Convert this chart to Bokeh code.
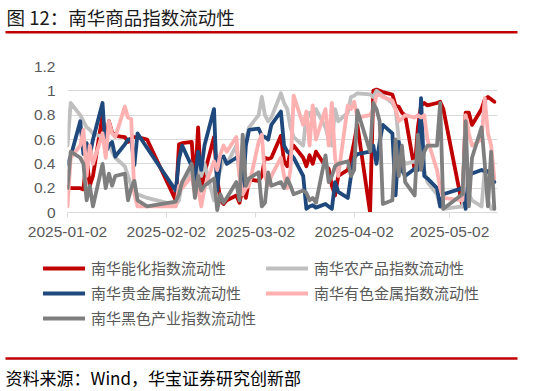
import pandas as pd
from bokeh.plotting import figure
from bokeh.layouts import column
from bokeh.models import (Range1d, FixedTicker, DatetimeTickFormatter, Legend,
                          LegendItem, ColumnDataSource, Label)
from bokeh.embed import file_html
from bokeh.resources import INLINE

# ---------------- data ----------------
holidays = ["2025-01-01", "2025-01-28", "2025-01-29", "2025-01-30", "2025-01-31",
            "2025-02-03", "2025-02-04", "2025-04-04", "2025-05-01", "2025-05-02",
            "2025-05-05"]
dates = pd.bdate_range("2025-01-02", "2025-05-16", freq="C", holidays=holidays)

series_names = ["南华能化指数流动性", "南华农产品指数流动性", "南华贵金属指数流动性",
                "南华有色金属指数流动性", "南华黑色产业指数流动性"]

energy_chem = [0.21, 0.20, 0.20, 0.19, 0.45, 0.22, 0.30, 0.80, 0.55, 0.75, 0.66, 0.63, 0.62, 0.58, 0.61, 0.62, 0.62, 0.60,
               0.10, 0.56, 0.57, 0.58, 0.22, 0.70, 0.20, 0.32, 0.62, 0.28, 0.10, 0.07, 0.10, 0.14, 0.08, 0.20, 0.12, 0.27,
               0.26, 0.30, 0.45, 0.44, 0.45, 0.63, 0.42, 0.38, 0.50, 0.55, 0.45, 0.38, 0.47, 0.40, 0.50, 0.38, 0.36, 0.22, 0.14, 0.30, 0.35,
               0.45, 0.58, 0.72, 0.00, 1.00, 1.01, 1.00, 0.99, 0.97, 0.88, 0.87, 0.82, 0.80, 0.35, 0.70, 0.88, 0.90, 0.88, 0.90, 0.91, 0.85,
               0.05, 0.82, 0.82, 0.72, 0.85, 0.93, 0.95, 0.93, 0.91]
agri = [0.55, 0.90, 0.80, 0.75, 0.70, 0.68, 0.65, 0.62, 0.60, 0.55, 0.50, 0.45, 0.38, 0.30, 0.22, 0.18, 0.15, 0.12,
        0.06, 0.10, 0.25, 0.35, 0.20, 0.45, 0.30, 0.40, 0.10, 0.28, 0.35, 0.45, 0.40, 0.55, 0.30, 0.50, 0.60, 0.70,
        0.80, 0.95, 0.80, 0.75, 0.78, 0.98, 0.90, 0.85, 0.70, 0.62, 0.55, 0.80, 0.82, 0.75, 0.85, 0.70, 0.60, 0.55, 0.85, 0.75, 0.82,
        0.95, 0.96, 0.98, 0.97, 0.95, 1.00, 0.98, 0.96, 0.90, 0.85, 0.60, 0.45, 0.40, 0.42, 0.40, 0.45, 0.35, 0.25, 0.15, 0.05, 0.03,
        0.05, 0.40, 0.15, 0.10, 0.05, 0.35, 0.10, 0.03, 0.03]
precious = [0.40, 0.46, 0.75, 0.48, 0.57, 0.47, 0.60, 0.90, 0.50, 0.55, 0.58, 0.46, 0.56, 0.60, 0.60, 0.39, 0.65, 0.53,
            0.18, 0.44, 0.55, 0.38, 0.27, 0.50, 0.35, 0.55, 0.85, 0.18, 0.45, 0.46, 0.40, 0.45, 0.42, 0.15, 0.55, 0.68,
            0.69, 0.63, 0.62, 0.60, 0.72, 0.83, 0.55, 0.50, 0.48, 0.45, 0.30, 0.03, 0.05, 0.06, 0.04, 0.07, 0.05, 0.03, 0.25, 0.17, 0.12,
            0.30, 0.45, 0.48, 0.50, 0.55, 0.40, 0.58, 0.72, 0.65, 0.14, 0.58, 0.35, 0.30, 0.36, 0.35, 0.94, 0.30, 0.28, 0.20, 0.05, 0.15,
            0.20, 0.03, 0.30, 0.32, 0.35, 0.34, 0.34, 0.30, 0.25]
nonferrous = [0.05, 0.45, 0.55, 0.68, 0.30, 0.55, 0.40, 0.65, 0.45, 0.75, 0.65, 0.62, 0.87, 0.78, 0.77, 0.15, 0.05, 0.05,
              0.05, 0.22, 0.20, 0.30, 0.15, 0.20, 0.05, 0.20, 0.42, 0.35, 0.48, 0.55, 0.50, 0.62, 0.30, 0.15, 0.20, 0.22,
              0.58, 0.64, 0.30, 0.22, 0.30, 0.45, 0.30, 0.20, 0.35, 0.96, 0.72, 0.83, 0.55, 0.88, 0.60, 0.85, 0.55, 0.90, 0.45, 0.30, 0.88,
              0.85, 0.91, 0.78, 0.80, 0.85, 0.96, 0.97, 0.95, 0.92, 0.85, 0.75, 0.77, 0.80, 0.78, 0.80, 0.78, 0.80, 0.60, 0.35, 0.20, 0.12,
              0.10, 0.80, 0.65, 0.55, 0.60, 0.94, 0.65, 0.55, 0.28]
ferrous = [0.20, 0.50, 0.45, 0.40, 0.10, 0.22, 0.05, 0.40, 0.20, 0.32, 0.22, 0.30, 0.32, 0.10, 0.20, 0.26, 0.10, 0.05,
           0.09, 0.15, 0.25, 0.40, 0.12, 0.30, 0.18, 0.22, 0.28, 0.02, 0.15, 0.08, 0.12, 0.25, 0.10, 0.64, 0.22, 0.28,
           0.33, 0.05, 0.08, 0.33, 0.22, 0.25, 0.20, 0.28, 0.22, 0.15, 0.18, 0.16, 0.10, 0.12, 0.08, 0.47, 0.25, 0.30, 0.38, 0.40, 0.42,
           0.30, 0.35, 0.84, 0.50, 0.90, 0.85, 0.75, 0.07, 0.10, 0.60, 0.30, 0.55, 0.25, 0.14, 0.64, 0.35, 0.50, 0.55, 0.55, 0.90, 0.03,
           0.15, 0.75, 0.05, 0.45, 0.70, 0.40, 0.05, 0.50, 0.03]

y_ticks = [0, 0.2, 0.4, 0.6, 0.8, 1.0, 1.2]
y_tick_labels = ["0", "0.2", "0.4", "0.6", "0.8", "1", "1.2"]
x_tick_dates = ["2025-01-02", "2025-02-02", "2025-03-02", "2025-04-02", "2025-05-02"]

colors = ["#C00000", "#BFBFBF", "#1F497D", "#FFB0B0", "#7F7F7F"]

title_text = "图 12：南华商品指数流动性"
source_text = "资料来源：Wind，华宝证券研究创新部"

CJK = "Noto Sans CJK SC"
LAT = "Liberation Sans"
W = 534
LW = 3.8


def blank(h):
    f = figure(width=W, height=h, x_range=Range1d(0, W), y_range=Range1d(0, h),
               output_backend="svg", toolbar_location=None,
               x_axis_location=None, y_axis_location=None, min_border=0,
               frame_align=False)
    f.outline_line_color = None
    f.grid.visible = False
    f.background_fill_color = None
    f.border_fill_color = None
    return f


# ---------------- header (page y 0..40) ----------------
header = blank(40)
header.add_layout(Label(x=6, y=24, text=title_text, text_font=CJK, text_font_size="18.5px",
                        text_color="#1a1a1a", text_baseline="middle", text_align="left"))
header.segment(x0=[5], y0=[8.3], x1=[517], y1=[8.3], line_color="#C00000", line_width=2.5)

# ---------------- main chart (page y 40..250) ----------------
def to_ms(s):
    return pd.Timestamp(s).value // 10**6

p = figure(width=W, height=210, x_axis_type="datetime",
           x_range=Range1d(pd.Timestamp("2025-01-02"), pd.Timestamp("2025-05-17")),
           y_range=Range1d(0, 1.2), output_backend="svg", toolbar_location=None,
           min_border_left=67, min_border_right=37, min_border_top=26, min_border_bottom=38,
           frame_align=False)
p.outline_line_color = None
p.background_fill_color = None
p.border_fill_color = None
p.xgrid.visible = False
p.ygrid.grid_line_color = "#D9D9D9"
p.ygrid.grid_line_width = 1
p.yaxis.ticker = FixedTicker(ticks=y_ticks)
p.yaxis.major_label_overrides = {t: l for t, l in zip(y_ticks, y_tick_labels)}
p.yaxis.axis_line_color = None
p.yaxis.major_tick_line_color = None
p.yaxis.minor_tick_line_color = None
p.yaxis.major_tick_out = 0
p.yaxis.major_tick_in = 0
p.yaxis.major_label_standoff = 12
p.xaxis.ticker = FixedTicker(ticks=[to_ms(d) for d in x_tick_dates])
p.xaxis.formatter = DatetimeTickFormatter(days="%Y-%m-%d", months="%Y-%m-%d", years="%Y-%m-%d")
p.xaxis.axis_line_color = "#D9D9D9"
p.xaxis.major_tick_line_color = "#D9D9D9"
p.xaxis.major_tick_out = 5
p.xaxis.major_tick_in = 0
p.xaxis.minor_tick_line_color = None
p.xaxis.major_label_standoff = 9
for ax in (p.xaxis, p.yaxis):
    ax.major_label_text_font = LAT
    ax.major_label_text_font_size = "15.5px"
    ax.major_label_text_color = "#595959"

src = ColumnDataSource(dict(date=dates, energy_chem=energy_chem, agri=agri, precious=precious,
                            nonferrous=nonferrous, ferrous=ferrous))
cols = ["energy_chem", "agri", "precious", "nonferrous", "ferrous"]
for c, color in zip(cols, colors):
    p.line("date", c, source=src, line_color=color, line_width=LW,
           line_join="round", line_cap="round")

# ---------------- legend (page y 250..345) ----------------
# The legend lives in its own strip; its renderers share the series data but
# fall outside this strip's ranges, so only their legend swatches appear.
lf = blank(95)
legend_renderers = [lf.line("date", c, source=src, line_color=color, line_width=LW, line_cap="round")
                    for c, color in zip(cols, colors)]
legend = Legend(items=[LegendItem(label=n, renderers=[r]) for n, r in zip(series_names, legend_renderers)],
                location=(43, 17), orientation="horizontal", ncols=2,
                glyph_width=42, glyph_height=20, label_height=20, label_width=171,
                label_standoff=6, spacing=4, padding=0, margin=0,
                border_line_color=None, background_fill_alpha=0,
                label_text_font=CJK, label_text_font_size="15px", label_text_color="#595959")
lf.add_layout(legend)

# ---------------- footer (page y 345..391) ----------------
footer = blank(46)
footer.segment(x0=[5], y0=[33], x1=[517], y1=[33], line_color="#C00000", line_width=2.5)
footer.add_layout(Label(x=5, y=14, text=source_text, text_font=CJK, text_font_size="17px",
                        text_color="#000000", text_baseline="middle", text_align="left"))

layout = column(header, p, lf, footer, spacing=0)
open("out.html", "w").write(file_html(layout, INLINE))
